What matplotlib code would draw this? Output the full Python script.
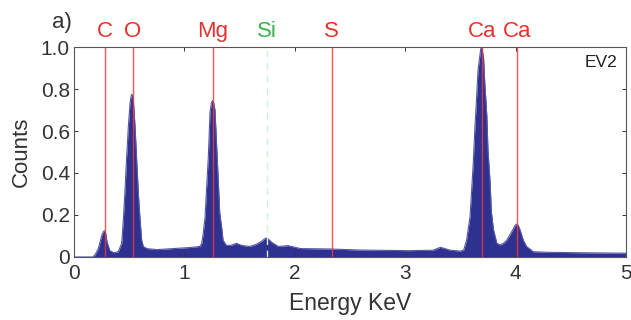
import matplotlib.pyplot as plt

plt.rcParams['font.family'] = ['Liberation Sans', 'DejaVu Sans']

# spectrum (keV, normalised counts)
energy = [0, 0.17, 0.19, 0.22, 0.25, 0.265, 0.275, 0.285, 0.30, 0.325, 0.36, 0.40,
          0.432, 0.447, 0.462, 0.477, 0.492, 0.507, 0.515, 0.522, 0.53, 0.537, 0.553, 0.568,
          0.583, 0.598, 0.613, 0.628, 0.66, 0.75, 0.9, 1.05, 1.14, 1.157,
          1.17, 1.187, 1.20, 1.217, 1.232, 1.245, 1.255, 1.265, 1.277, 1.293, 1.308, 1.32,
          1.34, 1.35, 1.38, 1.42, 1.47, 1.52, 1.59, 1.65, 1.70, 1.73, 1.745, 1.76,
          1.79, 1.85, 1.94, 2.05, 2.32, 2.59, 3.04, 3.25, 3.32, 3.41,
          3.5, 3.53, 3.556, 3.587, 3.60, 3.617, 3.63, 3.647, 3.66, 3.684,
          3.693, 3.71, 3.72, 3.74, 3.75, 3.77, 3.78, 3.80, 3.83, 3.86,
          3.89, 3.92, 3.965, 3.995, 4.01, 4.025, 4.04, 4.07, 4.10, 4.16, 4.3, 4.6, 5.0]
counts = [0, 0, 0.01, 0.04, 0.10, 0.12, 0.125, 0.118, 0.07, 0.03, 0.02, 0.025,
          0.065, 0.18, 0.32, 0.48, 0.62, 0.73, 0.76, 0.775, 0.77, 0.75, 0.62, 0.46,
          0.30, 0.18, 0.08, 0.05, 0.04, 0.035, 0.04, 0.045, 0.05, 0.065,
          0.11, 0.19, 0.32, 0.48, 0.69, 0.735, 0.745, 0.735, 0.70, 0.52, 0.35, 0.21,
          0.13, 0.08, 0.055, 0.055, 0.065, 0.055, 0.05, 0.06, 0.075, 0.088, 0.09, 0.086,
          0.07, 0.05, 0.054, 0.04, 0.038, 0.033, 0.03, 0.032, 0.046, 0.032,
          0.028, 0.033, 0.08, 0.19, 0.30, 0.45, 0.60, 0.76, 0.89, 0.99,
          1.0, 0.95, 0.84, 0.67, 0.51, 0.35, 0.22, 0.13, 0.066, 0.057,
          0.065, 0.08, 0.12, 0.15, 0.157, 0.15, 0.13, 0.08, 0.05, 0.025, 0.022, 0.02, 0.018]

# element lines
elements = ['C', 'O', 'Mg', 'Si', 'S', 'Ca', 'Ca']
line_pos = [0.28, 0.535, 1.255, 1.745, 2.335, 3.70, 4.01]
red_color = '#e8312f'
green_color = '#3bb24a'
text_color = '#333333'

fig = plt.figure(figsize=(6.31, 3.2), dpi=100)
ax = fig.add_axes([0.1173, 0.197, 0.8747, 0.656])

ax.fill_between(energy, counts, 0, color='#2e3190', linewidth=0)
ax.plot(energy, counts, color='#5559a8', linewidth=0.8)

for name, e in zip(elements, line_pos):
    if name == 'Si':
        ax.axvline(e, color='#d2f0d8', linewidth=1, linestyle=(0, (5, 4)))
        c = green_color
    else:
        ax.axvline(e, color='#f03a3a', linewidth=1, alpha=0.85)
        c = red_color
    ax.text(e, 1.076, name, transform=ax.get_xaxis_transform(),
            ha='center', va='center', color=c, fontsize=16)

ax.text(0.985, 0.925, 'EV2', transform=ax.transAxes, ha='right', va='center',
        fontsize=12.5, color='#222222')
fig.text(0.098, 0.93, 'a)', ha='center', va='center', fontsize=16, color=text_color)

ax.set_xlim(0, 5)
ax.set_ylim(0, 1.0)
ax.set_xticks([0, 1, 2, 3, 4, 5])
ax.set_yticks([0, 0.2, 0.4, 0.6, 0.8, 1.0])
ax.set_yticklabels(['0', '0.2', '0.4', '0.6', '0.8', '1.0'])
ax.tick_params(direction='in', top=True, right=True, length=3, width=0.7,
               labelsize=15, colors=text_color, pad=3)
ax.tick_params(axis='x', pad=5)
for s in ax.spines.values():
    s.set_color('#555555')
    s.set_linewidth(0.8)
ax.set_xlabel('Energy KeV', fontsize=16.5, color=text_color, va='center')
ax.set_ylabel('Counts', fontsize=16, color=text_color, va='center')
ax.xaxis.set_label_coords(0.5, -0.224)
ax.yaxis.set_label_coords(-0.096, 0.5)

fig.savefig('out.png', dpi=100)
